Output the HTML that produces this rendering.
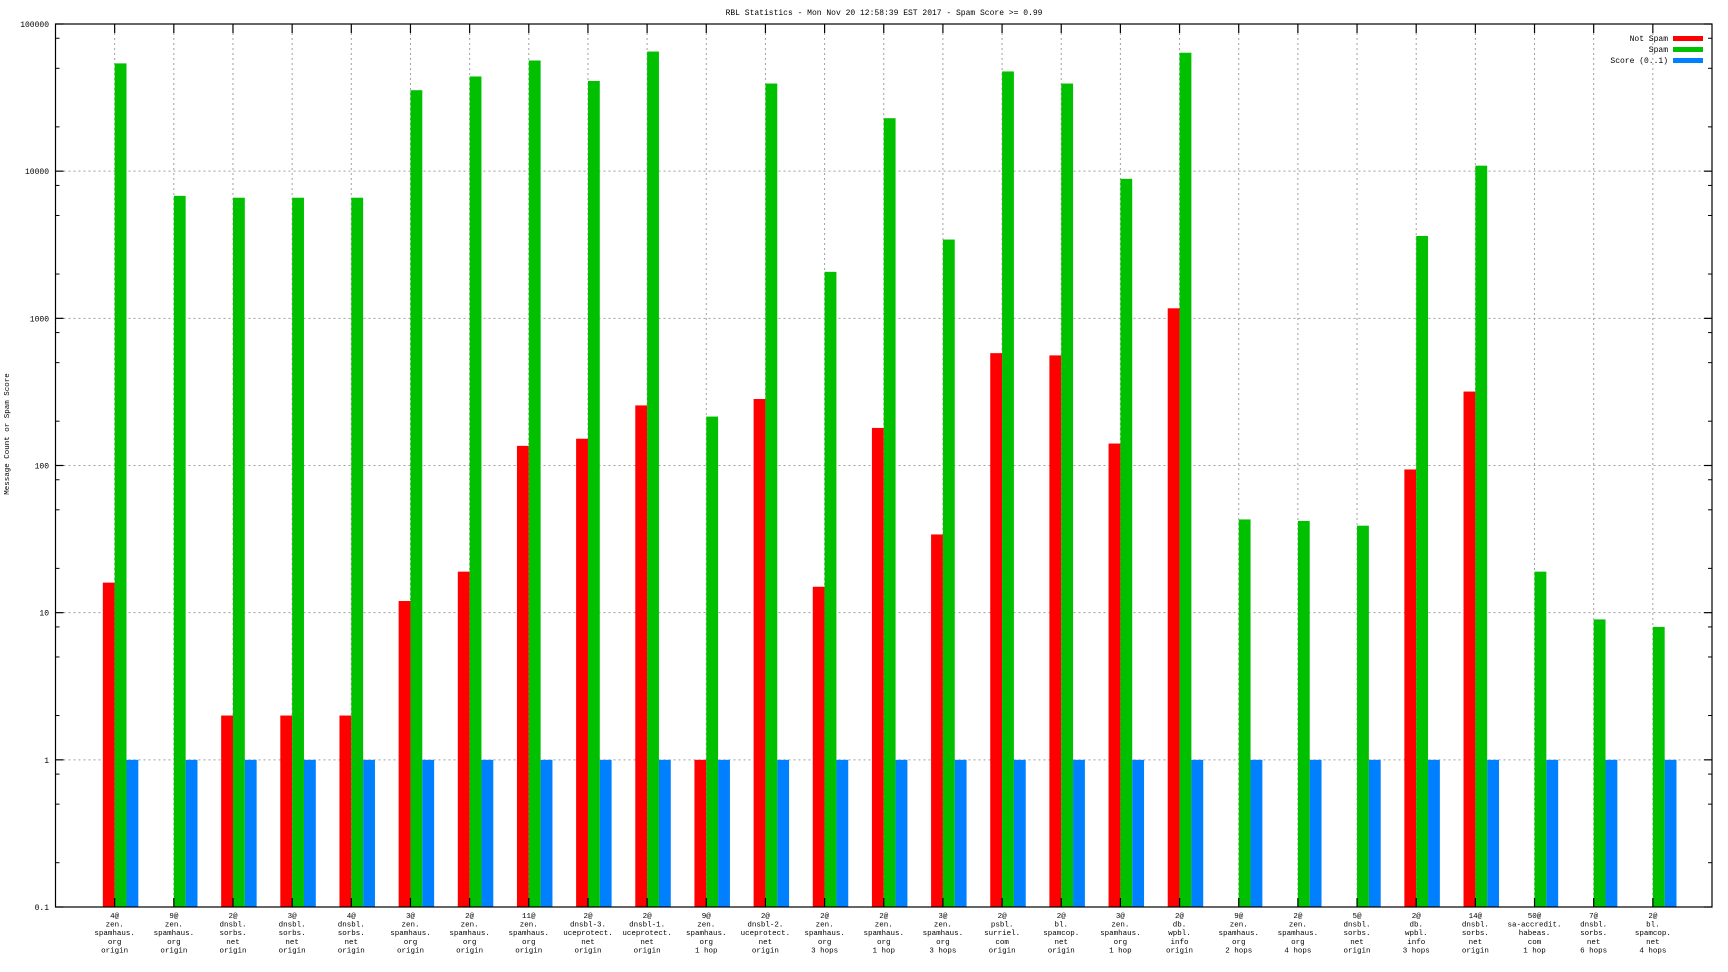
<!DOCTYPE html>
<html><head><meta charset="utf-8"><style>
html,body{margin:0;padding:0;background:#fff;}
svg{display:block;font-family:"Liberation Mono","DejaVu Sans Mono",monospace;}
</style></head><body>
<svg id="chart" width="1728" height="972" viewBox="0 0 1728 972" xmlns="http://www.w3.org/2000/svg">
<rect width="1728" height="972" fill="#fff"/>
<text x="884" y="15" font-size="8" text-anchor="middle">RBL Statistics - Mon Nov 20 12:58:39 EST 2017 - Spam Score &gt;= 0.99</text>
<text transform="translate(9,434) rotate(-90)" font-size="7.5" text-anchor="middle">Message Count or Spam Score</text>
<g id="grid"></g><g id="bars"></g><g id="axes"></g><g id="labels"></g>
<g>
<text x="1668" y="41" font-size="8" text-anchor="end">Not Spam</text>
<rect x="1673" y="36" width="30" height="5" fill="#ff0000"/>
<text x="1668" y="52" font-size="8" text-anchor="end">Spam</text>
<rect x="1673" y="47" width="30" height="5" fill="#00c000"/>
<text x="1668" y="63" font-size="8" text-anchor="end">Score (0..1)</text>
<rect x="1673" y="58" width="30" height="5" fill="#0080ff"/>
</g>
</svg>
<script>
const categories = [
["4@","zen.","spamhaus.","org","origin"],["9@","zen.","spamhaus.","org","origin"],["2@","dnsbl.","sorbs.","net","origin"],
["3@","dnsbl.","sorbs.","net","origin"],["4@","dnsbl.","sorbs.","net","origin"],["3@","zen.","spamhaus.","org","origin"],
["2@","zen.","spamhaus.","org","origin"],["11@","zen.","spamhaus.","org","origin"],["2@","dnsbl-3.","uceprotect.","net","origin"],
["2@","dnsbl-1.","uceprotect.","net","origin"],["9@","zen.","spamhaus.","org","1 hop"],["2@","dnsbl-2.","uceprotect.","net","origin"],
["2@","zen.","spamhaus.","org","3 hops"],["2@","zen.","spamhaus.","org","1 hop"],["3@","zen.","spamhaus.","org","3 hops"],
["2@","psbl.","surriel.","com","origin"],["2@","bl.","spamcop.","net","origin"],["3@","zen.","spamhaus.","org","1 hop"],
["2@","db.","wpbl.","info","origin"],["9@","zen.","spamhaus.","org","2 hops"],["2@","zen.","spamhaus.","org","4 hops"],
["5@","dnsbl.","sorbs.","net","origin"],["2@","db.","wpbl.","info","3 hops"],["14@","dnsbl.","sorbs.","net","origin"],
["50@","sa-accredit.","habeas.","com","1 hop"],["7@","dnsbl.","sorbs.","net","6 hops"],["2@","bl.","spamcop.","net","4 hops"]];
const notSpam = [16,0,2,2,2,12,19,136,152,256,1,283,15,180,34,580,560,141,1170,0,0,0,94,318,0,0,0];
const spam = [54000,6800,6600,6600,6600,35500,44000,56500,41000,65000,215,39400,2070,22900,3430,47600,39400,8870,63800,43,42,39,3630,10900,19,9,8];
const score = [1,1,1,1,1,1,1,1,1,1,1,1,1,1,1,1,1,1,1,1,1,1,1,1,1,1,1];
const yTicks = ["0.1","1","10","100","1000","10000","100000"];

const L=55.5,R=1712,T=24,B=907,NS="http://www.w3.org/2000/svg";
const xScale=v=>L+(R-L)*v/(categories.length+1);
const yScale=v=>B-(B-T)*(Math.log10(v)+1)/6;
function mk(tag,attrs,parent){const e=document.createElementNS(NS,tag);for(const k in attrs)e.setAttribute(k,attrs[k]);document.getElementById(parent).appendChild(e);return e;}
const bw=xScale(0.2)-xScale(0);
// grid
yTicks.forEach((t,i)=>{const v=parseFloat(t);const y=yScale(v);
 if(i>0&&i<yTicks.length-1){const g=mk('line',{x1:L+8,x2:R-8,y1:y,y2:y,stroke:'#a0a0a0','stroke-dasharray':'2,3'},'grid');
 
 }
 const tl=mk('text',{x:49,y:y+3,'font-size':8,'text-anchor':'end'},'labels');tl.textContent=t;
 
 
 [[L,L+8],[R,R-8]].forEach(p=>{mk('line',{x1:p[0],x2:p[1],y1:y,y2:y,stroke:'#000','stroke-width':1.2},'axes');});
 if(i<yTicks.length-1){[2,5,8].forEach(m=>{const my=yScale(v*m);[[L,L+4],[R,R-4]].forEach(p=>{mk('line',{x1:p[0],x2:p[1],y1:my,y2:my,stroke:'#000'},'axes');});});}
});
categories.forEach((c,i)=>{const x=xScale(i+1);
 const g=mk('line',{x1:x,x2:x,y1:T+9,y2:B-9,stroke:'#a0a0a0','stroke-dasharray':'2,3'},'grid');
 
 
 mk('line',{x1:x,x2:x,y1:T,y2:T+9,stroke:'#000','stroke-width':1.2},'axes');
 mk('line',{x1:x,x2:x,y1:B,y2:B-9,stroke:'#000','stroke-width':1.2},'axes');
 const t=mk('text',{x:x,y:918,'font-size':7.5,'text-anchor':'middle'},'labels');
 
 
 c.forEach((ln,j)=>{const s=document.createElementNS(NS,'tspan');s.setAttribute('x',x);s.setAttribute('dy',j?8.6:0);s.textContent=ln;t.appendChild(s);});
 [[notSpam,-0.2,'#ff0000','bar-not-spam'],[spam,0,'#00c000','bar-spam'],[score,0.2,'#0080ff','bar-score']].forEach(s=>{const v=s[0][i];if(!v)return;
  const y=yScale(v);const r=mk('rect',{x:xScale(i+1+s[1]),y:y,width:bw,height:B-y,fill:s[2]},'bars');
  
  });
});
const f=mk('rect',{x:L,y:T,width:R-L,height:B-T,fill:'none',stroke:'#000','stroke-width':1.2},'axes');


</script>
</body></html>
